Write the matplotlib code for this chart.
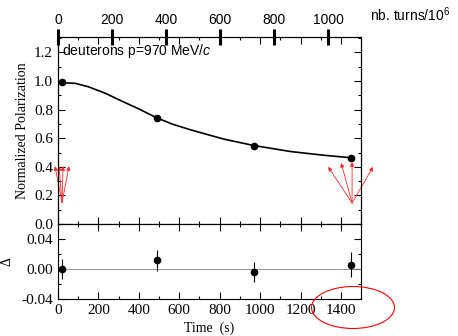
import numpy as np
import matplotlib
matplotlib.use('Agg')
from matplotlib import pyplot as plt
from matplotlib.patches import Ellipse
from matplotlib.ticker import MultipleLocator, FormatStrFormatter

# measured points (time in s)
t_data = [20, 490, 970, 1450]
pol_data = [0.99, 0.739, 0.548, 0.464]
resid = [0.000, 0.012, -0.004, 0.006]
resid_err = [0.0135, 0.014, 0.013, 0.017]

# fit curve
t_fit = [0, 85, 150, 235, 315, 400, 485, 565, 660, 820, 965, 1150, 1315, 1445]
pol_fit = [0.99, 0.984, 0.96, 0.914, 0.86, 0.805, 0.745, 0.699, 0.657, 0.594,
           0.550, 0.507, 0.481, 0.464]

# red arrows: base point and tips
left_base = (20, 0.15)
left_tips = [(-15, 0.405), (5, 0.405), (25, 0.405), (55, 0.405)]
right_base = (1455, 0.147)
right_tips = [(1337, 0.40), (1401, 0.427), (1455, 0.434), (1559, 0.40)]

turn_ticks = [0, 200, 400, 600, 800, 1000]
sec_per_turn = 1.337  # 1e6 turns -> seconds

plt.rcParams['font.family'] = ['Liberation Serif', 'DejaVu Serif']
plt.rcParams['mathtext.fontset'] = 'custom'
plt.rcParams['mathtext.rm'] = 'Liberation Sans'
plt.rcParams['mathtext.it'] = 'Liberation Sans:italic'
plt.rcParams['axes.linewidth'] = 0.8

fig = plt.figure(figsize=(4.58, 3.36), dpi=100)
ax = fig.add_axes([0.1266, 0.3333, 0.662, 0.5566])
ax2 = fig.add_axes([0.1266, 0.1101, 0.662, 0.2232], sharex=ax)

ax.plot(t_fit, pol_fit, color='black', lw=1.2)
ax.plot(t_data, pol_data, 'o', color='black', ms=4.5)
ax.set_xlim(0, 1500)
ax.set_ylim(0, 1.308)
ax.yaxis.set_major_locator(MultipleLocator(0.2))
ax.yaxis.set_minor_locator(MultipleLocator(0.1))
ax.yaxis.set_major_formatter(FormatStrFormatter('%.1f'))
ax.xaxis.set_major_locator(MultipleLocator(200))
ax.xaxis.set_minor_locator(MultipleLocator(100))
ax.set_ylabel('Normalized Polarization', fontsize=10, labelpad=4)
ax.text(0.013, 0.975, 'deuterons p=970 MeV/$c$', transform=ax.transAxes,
        ha='left', va='top', fontsize=10, family='Liberation Sans')

for tip in left_tips:
    ax.annotate('', xy=tip, xytext=left_base, annotation_clip=False,
                arrowprops=dict(arrowstyle='-|>', color='#ff2a2a', lw=0.6,
                                mutation_scale=6, shrinkA=0, shrinkB=0))
for tip in right_tips:
    ax.annotate('', xy=tip, xytext=right_base, annotation_clip=False,
                arrowprops=dict(arrowstyle='-|>', color='#ff2a2a', lw=0.6,
                                mutation_scale=6, shrinkA=0, shrinkB=0))

# top axis in turns
top = ax.twiny()
top.set_xlim(0, 1500 / sec_per_turn)
top.set_xticks(turn_ticks)
top.tick_params(axis='x', direction='inout', length=12, width=2.2,
                labelsize=10, pad=1)
for lab in top.get_xticklabels():
    lab.set_family('Liberation Sans')
fig.text(370 / 458, 1 - 15 / 336, 'nb. turns/10$^6$', ha='left', va='center',
         fontsize=10, family='Liberation Sans')

# twiny switches off the top ticks of ax, so set them after
ax.tick_params(which='both', direction='in', left=True, right=True,
               bottom=True, top=True, labelbottom=False, labeltop=False,
               labelsize=11)
ax.tick_params(which='major', length=5, width=0.8)
ax.tick_params(which='minor', length=2.5, width=0.8)

# residuals
ax2.axhline(0, color='gray', lw=0.6)
ax2.errorbar(t_data, resid, yerr=resid_err, fmt='o', color='black', ms=4.5,
             elinewidth=0.8, capsize=0)
ax2.set_ylim(-0.04, 0.06)
ax2.yaxis.set_major_locator(MultipleLocator(0.04))
ax2.yaxis.set_minor_locator(MultipleLocator(0.02))
ax2.yaxis.set_major_formatter(FormatStrFormatter('%.2f'))
ax2.tick_params(which='both', direction='in', left=True, right=True,
                bottom=True, top=True, labelsize=11)
ax2.tick_params(which='major', length=5, width=0.8)
ax2.tick_params(which='minor', length=2.5, width=0.8)
ax2.set_ylabel('Δ', fontsize=10, labelpad=6)
ax2.set_xlabel('Time  (s)', fontsize=10, labelpad=3)

ell = Ellipse((353 / 458, 1 - 307.5 / 336), 83 / 458, 42 / 336,
              transform=fig.transFigure, fill=False, edgecolor='red', lw=0.8)
fig.patches.append(ell)

fig.savefig('out.png', dpi=100)
